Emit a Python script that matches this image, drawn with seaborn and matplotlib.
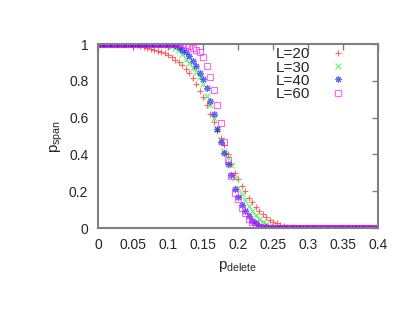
import numpy as np
import pandas as pd
import matplotlib
matplotlib.use('Agg')
import matplotlib.pyplot as plt
import seaborn as sns

# p_delete grid, step 0.005
p_delete = [round(i * 0.005, 3) for i in range(81)]

span_20 = [1.0] * 11 + [
    0.995, 0.99, 0.985, 0.98, 0.975, 0.97, 0.96, 0.955, 0.95, 0.94,      # 0.055-0.100
    0.93, 0.915, 0.90, 0.885, 0.865, 0.84, 0.815, 0.785, 0.745, 0.71,    # 0.105-0.150
    0.67, 0.62, 0.575, 0.525, 0.49, 0.45, 0.40, 0.35, 0.30, 0.265,       # 0.155-0.200
    0.23, 0.20, 0.165, 0.14, 0.115, 0.095, 0.075, 0.058, 0.045, 0.035,   # 0.205-0.250
    0.025, 0.018, 0.012, 0.008, 0.005, 0.003, 0.002, 0.001, 0.0, 0.0,    # 0.255-0.300
] + [0.0] * 20

span_30 = [1.0] * 19 + [
    0.998, 0.995, 0.99, 0.98, 0.965, 0.945, 0.92, 0.895, 0.87, 0.85,    # 0.095-0.140
    0.82, 0.78, 0.72, 0.67, 0.60, 0.54, 0.48, 0.42, 0.38, 0.34,         # 0.145-0.190
    0.27, 0.22, 0.185, 0.15, 0.12, 0.095, 0.07, 0.05, 0.03, 0.02,       # 0.195-0.240
    0.013, 0.008, 0.005, 0.003, 0.001,                                  # 0.245-0.265
] + [0.0] * 27

span_40 = [1.0] * 22 + [
    0.995, 0.985, 0.97, 0.955, 0.935, 0.91, 0.88, 0.84, 0.81, 0.76,     # 0.110-0.155
    0.69, 0.62, 0.54, 0.47, 0.41, 0.35, 0.29, 0.21, 0.17, 0.125,        # 0.160-0.205
    0.09, 0.065, 0.04, 0.025, 0.012, 0.006, 0.003, 0.001,               # 0.210-0.245
] + [0.0] * 31

span_60 = [1.0] * 25 + [
    0.995, 0.99, 0.98, 0.97, 0.955, 0.93, 0.88, 0.82, 0.75, 0.67,       # 0.125-0.170
    0.57, 0.47, 0.37, 0.28, 0.19, 0.155, 0.11, 0.08, 0.05, 0.03,        # 0.175-0.220
    0.015, 0.006, 0.002,                                                # 0.225-0.235
] + [0.0] * 33

series = [('L=20', span_20, '#ff0000', '+'),
          ('L=30', span_30, '#00ee00', 'x'),
          ('L=40', span_40, '#0000ff', (8, 2, 0)),
          ('L=60', span_60, '#ff00ff', 's')]

sns.set_style('white')
plt.rcParams['font.family'] = ['Liberation Sans', 'DejaVu Sans']

fig = plt.figure(figsize=(4.15, 3.21), dpi=100)
ax = fig.add_axes([98 / 415, 1 - 228 / 321, 280 / 415, 184 / 321])

for label, vals, color, marker in series:
    df = pd.DataFrame({'p': p_delete, 'span': vals})
    if marker == 's':
        sns.lineplot(data=df, x='p', y='span', ax=ax, label=label, linestyle='',
                     marker='s', markersize=5, mfc='none', mec=color, mew=0.8,
                     alpha=0.6)
    else:
        sns.lineplot(data=df, x='p', y='span', ax=ax, label=label, linestyle='',
                     marker=marker, markersize=5, color=color, mec=color, mew=0.8,
                     alpha=0.6)

ax.set_xlim(0, 0.4)
ax.set_ylim(0, 1)
ax.set_xticks(np.arange(0, 0.401, 0.05))
ax.set_xticklabels(['0', '0.05', '0.1', '0.15', '0.2', '0.25', '0.3', '0.35', '0.4'])
ax.set_yticks(np.arange(0, 1.01, 0.2))
ax.set_yticklabels(['0', '0.2', '0.4', '0.6', '0.8', '1'])
ax.tick_params(axis='both', direction='in', length=4, width=1, color='#808080',
               top=True, right=True, labelsize=10, pad=7)
for s in ax.spines.values():
    s.set_color('#808080')
    s.set_linewidth(1.5)

ax.set_xlabel('$\\mathregular{p_{delete}}$', fontsize=11, labelpad=5)
ax.set_ylabel('$\\mathregular{p_{span}}$', fontsize=11, labelpad=3)

ax.legend(loc='upper right', bbox_to_anchor=(0.886, 0.99), frameon=False,
          markerfirst=False, fontsize=11, handlelength=0.8, handletextpad=1.45,
          labelspacing=-0.05, borderaxespad=0.0, borderpad=0.1, markerscale=0.9)

fig.savefig('out.png', dpi=100)
plt.close()
